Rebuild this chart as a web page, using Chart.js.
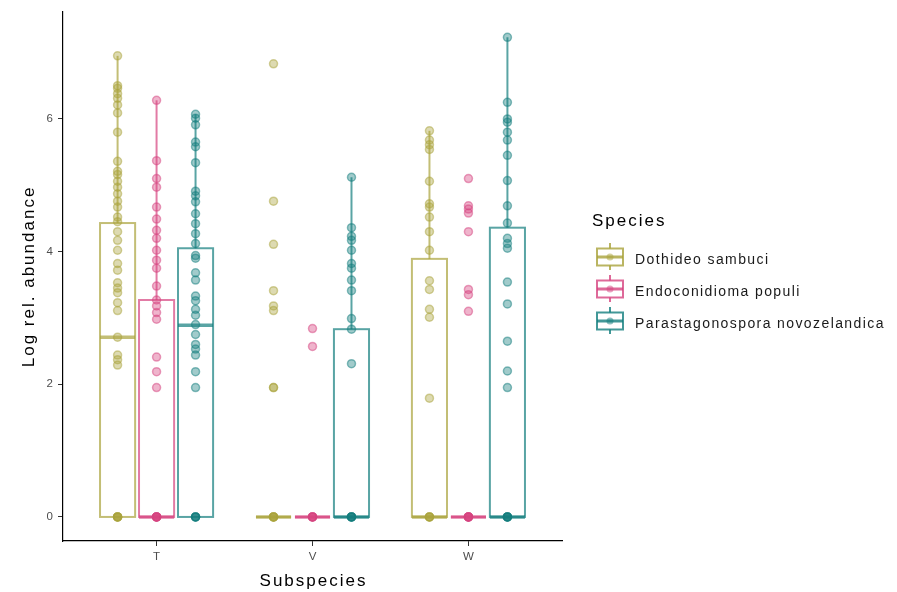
<!DOCTYPE html>
<html>
<head>
<meta charset="utf-8">
<script src="https://cdn.jsdelivr.net/npm/chart.js@4.4.1/dist/chart.umd.min.js"></script>
<style>
  html, body { margin: 0; padding: 0; background: #fff; }
  #wrap { width: 897px; height: 592px; }
</style>
</head>
<body>
<div id="wrap"><canvas id="boxChart" width="897" height="592"></canvas></div>
<script>
const subspecies = ["T", "V", "W"];
const species = ["Dothideo sambuci", "Endoconidioma populi", "Parastagonospora novozelandica"];
const speciesRgb = ["169, 163, 59", "214, 67, 127", "19, 126, 126"];
const yTicks = [0, 2, 4, 6];

// box statistics, one value per subspecies (T, V, W)
const dothideoQ1 = [0, 0, 0];
const dothideoMedian = [2.71, 0, 0];
const dothideoQ3 = [4.43, 0, 3.89];
const dothideoWhisker = [6.95, 0, 5.82];

const endoQ1 = [0, 0, 0];
const endoMedian = [0, 0, 0];
const endoQ3 = [3.27, 0, 0];
const endoWhisker = [6.28, 0, 0];

const paraQ1 = [0, 0, 0];
const paraMedian = [2.89, 0, 0];
const paraQ3 = [4.05, 2.83, 4.36];
const paraWhisker = [6.07, 5.12, 7.23];

// individual samples
const dothideoT = [6.95, 6.50, 6.46, 6.38, 6.31, 6.21, 6.09, 5.80, 5.36, 5.21, 5.16, 5.06, 4.97, 4.87, 4.76, 4.67, 4.52, 4.45, 4.30, 4.17, 4.02, 3.82, 3.72, 3.53, 3.45, 3.38, 3.23, 3.11, 2.71, 2.44, 2.37, 2.29, 0, 0, 0, 0, 0];
const dothideoV = [6.83, 4.76, 4.11, 3.41, 3.18, 3.11, 1.95, 1.95, 0, 0, 0, 0, 0];
const dothideoW = [5.82, 5.68, 5.61, 5.54, 5.06, 4.72, 4.67, 4.52, 4.30, 4.02, 3.56, 3.43, 3.13, 3.01, 1.79, 0, 0, 0, 0];
const endoT = [6.28, 5.37, 5.10, 4.97, 4.67, 4.49, 4.32, 4.20, 4.02, 3.87, 3.75, 3.48, 3.27, 3.18, 3.08, 2.98, 2.41, 2.19, 1.95, 0, 0, 0, 0, 0, 0];
const endoV = [2.84, 2.57, 0, 0, 0, 0, 0];
const endoW = [5.10, 4.69, 4.64, 4.58, 4.30, 3.43, 3.35, 3.10, 0, 0, 0, 0, 0, 0];
const paraT = [6.07, 6.01, 5.91, 5.65, 5.58, 5.34, 4.91, 4.84, 4.75, 4.57, 4.42, 4.27, 4.12, 3.94, 3.90, 3.68, 3.57, 3.33, 3.26, 3.13, 3.04, 2.90, 2.75, 2.60, 2.53, 2.44, 2.19, 1.95, 0, 0, 0, 0];
const paraV = [5.12, 4.36, 4.23, 4.17, 4.02, 3.82, 3.75, 3.57, 3.41, 2.99, 2.83, 2.31, 0, 0, 0, 0, 0];
const paraW = [7.23, 6.25, 6.00, 5.95, 5.80, 5.68, 5.45, 5.07, 4.69, 4.43, 4.20, 4.12, 4.05, 3.54, 3.21, 2.65, 2.20, 1.95, 0, 0, 0, 0, 0];

const boxStats = [
    { q1: dothideoQ1, med: dothideoMedian, q3: dothideoQ3, hi: dothideoWhisker },
    { q1: endoQ1, med: endoMedian, q3: endoQ3, hi: endoWhisker },
    { q1: paraQ1, med: paraMedian, q3: paraQ3, hi: paraWhisker }
];
const samples = [
    [dothideoT, dothideoV, dothideoW],
    [endoT, endoV, endoW],
    [paraT, paraV, paraW]
];

const dodge = [-0.25, 0, 0.25];
const boxWidth = 0.225;
const FONT = "'Liberation Sans', Arial, sans-serif";

function rgba(i, a) {
    return `rgba(${speciesRgb[i]}, ${a})`;
}

const datasets = species.map((name, s) => ({
    label: name,
    data: samples[s].flatMap((vals, i) => vals.map(v => ({ x: i + 1 + dodge[s], y: v }))),
    backgroundColor: rgba(s, 0.4),
    borderColor: rgba(s, 0.5),
    borderWidth: 1.5,
    pointRadius: 4,
    pointHoverRadius: 4
}));

// boxes, medians and whiskers under the sample points
const boxPlugin = {
    id: "boxes",
    beforeDatasetsDraw(chart) {
        const { ctx, scales: { x, y } } = chart;
        ctx.save();
        boxStats.forEach((st, s) => {
            subspecies.forEach((_, i) => {
                const pos = i + 1 + dodge[s];
                const cx = x.getPixelForValue(pos);
                const left = x.getPixelForValue(pos - boxWidth / 2);
                const right = x.getPixelForValue(pos + boxWidth / 2);
                const top = y.getPixelForValue(st.q3[i]);
                const bottom = y.getPixelForValue(st.q1[i]);
                const med = y.getPixelForValue(st.med[i]);
                const hi = y.getPixelForValue(st.hi[i]);
                ctx.strokeStyle = rgba(s, 0.7);
                ctx.lineWidth = 2;
                ctx.beginPath();
                ctx.moveTo(cx, top);
                ctx.lineTo(cx, hi);
                ctx.stroke();
                ctx.strokeRect(left, top, right - left, bottom - top);
                ctx.lineWidth = 3.5;
                ctx.beginPath();
                ctx.moveTo(left, med);
                ctx.lineTo(right, med);
                ctx.stroke();
            });
        });
        ctx.restore();
    }
};

// axis titles and the legend
const textPlugin = {
    id: "texts",
    afterDraw(chart) {
        const { ctx, chartArea } = chart;
        ctx.save();
        ctx.fillStyle = "#000";
        ctx.font = `17px ${FONT}`;
        ctx.letterSpacing = "2px";
        ctx.textAlign = "center";
        ctx.textBaseline = "alphabetic";
        ctx.fillText("Subspecies", (chartArea.left + chartArea.right) / 2 + 1, 586);

        ctx.save();
        ctx.translate(29, (chartArea.top + chartArea.bottom) / 2);
        ctx.rotate(-Math.PI / 2);
        ctx.textBaseline = "middle";
        ctx.fillText("Log rel. abundance", 0, 0);
        ctx.restore();

        ctx.textAlign = "left";
        ctx.fillText("Species", 592, 226);

        const rows = [257, 289, 321];
        species.forEach((name, s) => {
            const cy = rows[s];
            ctx.strokeStyle = rgba(s, 0.8);
            ctx.lineWidth = 2;
            ctx.beginPath();
            ctx.moveTo(610, cy - 14);
            ctx.lineTo(610, cy - 8.5);
            ctx.moveTo(610, cy + 8.5);
            ctx.lineTo(610, cy + 13);
            ctx.stroke();
            ctx.strokeRect(597, cy - 8.5, 26, 17);
            ctx.lineWidth = 3;
            ctx.beginPath();
            ctx.moveTo(597, cy);
            ctx.lineTo(623, cy);
            ctx.stroke();
            ctx.fillStyle = rgba(s, 0.5);
            ctx.beginPath();
            ctx.arc(610, cy, 3.5, 0, Math.PI * 2);
            ctx.fill();

            ctx.fillStyle = "#1a1a1a";
            ctx.font = `14px ${FONT}`;
            ctx.letterSpacing = "1.4px";
            ctx.fillText(name, 635, cy + 7);
        });
        ctx.restore();
    }
};

new Chart(document.getElementById("boxChart"), {
    type: "scatter",
    data: { datasets },
    plugins: [boxPlugin, textPlugin],
    options: {
        responsive: false,
        animation: false,
        events: [],
        layout: { padding: { top: 5, right: 335, bottom: 0, left: 0 } },
        plugins: {
            legend: { display: false },
            tooltip: { enabled: false }
        },
        scales: {
            x: {
                type: "linear",
                min: 0.4,
                max: 3.6,
                afterFit(scale) { scale.height = 51; },
                afterBuildTicks(scale) {
                    scale.ticks = subspecies.map((_, i) => ({ value: i + 1 }));
                },
                ticks: {
                    callback: (v) => subspecies[v - 1],
                    font: { family: FONT, size: 11.5 },
                    color: "#4d4d4d",
                    padding: 4,
                    maxRotation: 0
                },
                grid: { drawOnChartArea: false, tickLength: 5, color: "#333" },
                border: { color: "#000", width: 1.2 }
            },
            y: {
                min: -0.3625,
                max: 7.6125,
                afterFit(scale) { scale.width = 63; },
                afterBuildTicks(scale) {
                    scale.ticks = yTicks.map(v => ({ value: v }));
                },
                ticks: {
                    font: { family: FONT, size: 11.5 },
                    color: "#4d4d4d",
                    padding: 5
                },
                grid: { drawOnChartArea: false, tickLength: 5, color: "#333" },
                border: { color: "#000", width: 1.2 }
            }
        }
    }
});
</script>
</body>
</html>
